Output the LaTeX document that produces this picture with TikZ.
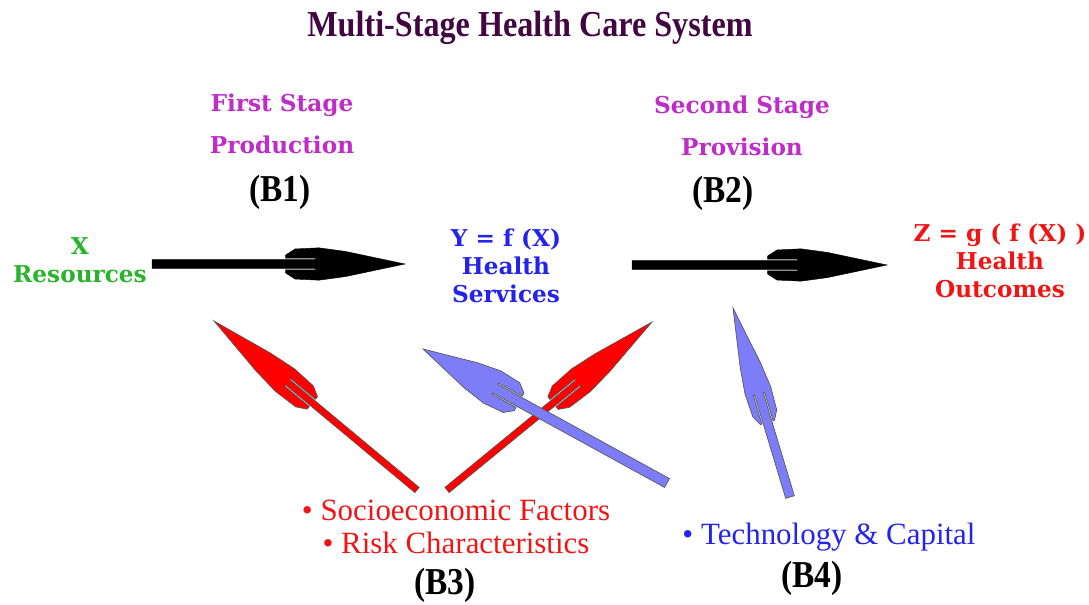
\documentclass[tikz,border=0pt]{standalone}
\usepackage{fontspec}
\setmainfont{Liberation Serif}
\newfontfamily\wideserif{DejaVu Serif}
\usetikzlibrary{calc}

\definecolor{titlepurple}{RGB}{66,6,66}
\definecolor{stagepurple}{RGB}{190,45,200}
\definecolor{resgreen}{RGB}{40,180,40}
\definecolor{servblue}{RGB}{35,35,235}
\definecolor{outred}{RGB}{240,20,20}
\definecolor{arrowblue}{RGB}{125,125,250}

% narrow (condensed) text
\newcommand{\narrow}[1]{\scalebox{0.88}[1]{#1}}

% fat fletched arrow: style, tail, tip, head length, head half width, shaft half width (pt)
\newcommand{\fatarrow}[6]{%
  \path (#2) coordinate (fa-s) (#3) coordinate (fa-e);
  \pgfpointdiff{\pgfpointanchor{fa-s}{center}}{\pgfpointanchor{fa-e}{center}}%
  \pgfgetlastxy{\fadx}{\fady}%
  \pgfmathsetmacro{\faang}{atan2(\fady,\fadx)}%
  \pgfmathsetmacro{\falen}{veclen(\fadx,\fady)}%
  \def\fah{#4}\def\faw{#5}\def\fas{#6}%
  \begin{scope}[shift={(fa-s)},rotate=\faang,x=1pt,y=1pt]
    \filldraw[#1] (0,\fas) -- ({\falen-0.75*\fah},\fas) -- ({\falen-0.75*\fah},\fas+1)
      -- ({\falen-\fah},\fas+1) -- ({\falen-\fah},0.55*\faw) -- ({\falen-0.92*\fah},0.93*\faw)
      -- ({\falen-0.72*\fah},\faw) -- ({\falen-0.5*\fah},0.78*\faw) -- (\falen,0)
      -- ({\falen-0.5*\fah},-0.78*\faw) -- ({\falen-0.72*\fah},-\faw)
      -- ({\falen-0.92*\fah},-0.93*\faw) -- ({\falen-\fah},-0.55*\faw)
      -- ({\falen-\fah},-\fas-1) -- ({\falen-0.75*\fah},-\fas-1)
      -- ({\falen-0.75*\fah},-\fas) -- (0,-\fas) -- cycle;
  \end{scope}}

\begin{document}
\begin{tikzpicture}[x=0.025cm,y=-0.025cm,
    title/.style={font=\bfseries\fontsize{26}{30}\selectfont,text=titlepurple},
    stage/.style={font=\wideserif\bfseries\fontsize{16.5}{30}\selectfont,text=stagepurple,align=center},
    blabel/.style={font=\bfseries\fontsize{27}{30}\selectfont},
    var/.style={font=\wideserif\bfseries\fontsize{16.5}{20}\selectfont,align=center},
    factor/.style={font=\fontsize{22}{23.5}\selectfont,align=center},
    blackarrow/.style={fill=black,draw=black,line width=0.3pt},
    redarrow/.style={fill=red,draw=black!65,line width=0.5pt},
    bluearrow/.style={fill=arrowblue,draw=black!65,line width=0.5pt}]
    \useasboundingbox (0,0) rectangle (1089,604);
    \node[title] (title) at (530,28) {\narrow{Multi-Stage Health Care System}};
    \node[stage] (stage1) at (282,124) {First Stage\\Production};
    \node[stage] (stage2) at (742,126) {Second Stage\\Provision};
    \node[blabel] (b1) at (280,192) {\narrow{(B1)}};
    \node[blabel] (b2) at (723,193) {\narrow{(B2)}};
    \node[var,text=resgreen] (res) at (80,260) {X\\Resources};
    \node[var,text=servblue] (serv) at (506,266) {Y = f (X)\\Health\\Services};
    \node[var,text=outred] (outc) at (1000,261) {Z = g ( f (X) )\\Health\\Outcomes};
    \node[factor,text=outred] (socio) at (456,527) {\textbullet\ Socioeconomic Factors\\\textbullet\ Risk Characteristics};
    \node[factor,text=servblue] (tech) at (829,537) {\textbullet\ Technology \& Capital};
    \node[blabel] (b3) at (445,585) {\narrow{(B3)}};
    \node[blabel] (b4) at (812,578) {\narrow{(B4)}};
    % arrow ends
    \coordinate (a1s) at (152,264);
    \coordinate (a1e) at (405,264);
    \coordinate (a2s) at (632,265);
    \coordinate (a2e) at (887,265);
    \coordinate (r1s) at (417,490);
    \coordinate (r1e) at (214,321);
    \coordinate (r2s) at (447,490);
    \coordinate (r2e) at (652,322);
    \coordinate (u1s) at (667,483);
    \coordinate (u1e) at (423,349);
    \coordinate (u2s) at (790,497);
    \coordinate (u2e) at (733,308);
    \fatarrow{blackarrow}{a1s}{a1e}{85}{11.5}{3.1}
    \fatarrow{blackarrow}{a2s}{a2e}{85}{11.5}{3.1}
    \fatarrow{redarrow}{r1s}{r1e}{91}{10.5}{2.4}
    \fatarrow{redarrow}{r2s}{r2e}{91}{10.5}{2.4}
    \fatarrow{bluearrow}{u1s}{u1e}{78}{13}{3.6}
    \fatarrow{bluearrow}{u2s}{u2e}{85}{9.5}{3.2}
\end{tikzpicture}
\end{document}
